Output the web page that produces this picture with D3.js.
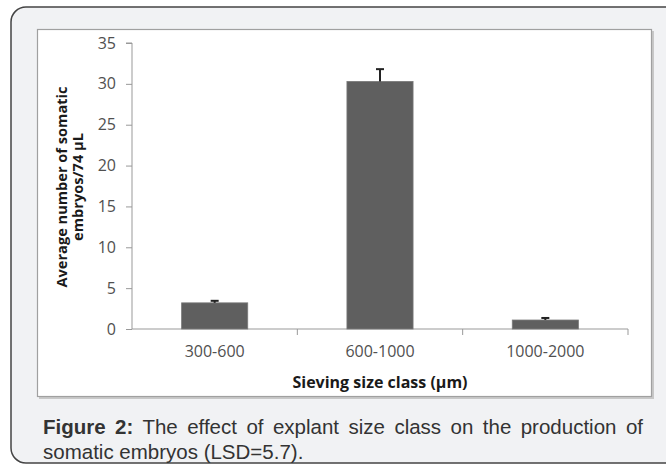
<!DOCTYPE html>
<html><head><meta charset="utf-8">
<script src="https://cdn.jsdelivr.net/npm/d3@7"></script>
<style>body{margin:0;background:#fff}svg{display:block}</style>
</head><body>
<script>
const categories = ["300-600", "600-1000", "1000-2000"];
const values = [3.2, 30.3, 1.1];
const errors = [0.25, 1.5, 0.25];
const yTicks = [0, 5, 10, 15, 20, 25, 30, 35];
const yTitle = ["Average number of somatic", "embryos/74 µL"];
const xTitle = "Sieving size class (µm)";
const caption1Bold = "Figure 2:";
const caption1 = " The effect of explant size class on the production of";
const caption2 = "somatic embryos (LSD=5.7).";

const W = 666, H = 466;
const svg = d3.select("body").append("svg").attr("width", W).attr("height", H);

// outer frame
svg.append("rect").attr("x", 11).attr("y", 7).attr("width", 672).attr("height", 456)
  .attr("rx", 15).attr("fill", "#f1f2f4").attr("stroke", "#444").attr("stroke-width", 1.5);

// chart box
svg.append("rect").attr("x", 39).attr("y", 31).attr("width", 615).attr("height", 368)
  .attr("fill", "#c8c8c8");
svg.append("rect").attr("x", 37.5).attr("y", 29.5).attr("width", 614).attr("height", 367)
  .attr("fill", "#fff").attr("stroke", "#a0a0a0").attr("stroke-width", 1.2);

const font = "'Open Sans', sans-serif";
const y = d3.scaleLinear().domain([0, 35]).range([329, 43]);
const x = d3.scaleBand().domain(categories).range([132, 628]).paddingInner(0.6).paddingOuter(0.3);

// y axis
const yAxis = svg.append("g").attr("transform", "translate(132,0)")
  .call(d3.axisLeft(y).tickValues(yTicks).tickSize(6).tickPadding(10));
yAxis.select(".domain").attr("stroke", "#999").attr("d", `M-6,${y(35)}H0V${y(0)}`);
yAxis.selectAll(".tick line").attr("stroke", "#999");
yAxis.selectAll(".tick text").attr("font-family", font).attr("font-size", 16).attr("fill", "#505050");

// x axis
const xg = svg.append("g");
xg.append("line").attr("x1", 132).attr("x2", 628).attr("y1", y(0)).attr("y2", y(0)).attr("stroke", "#999");
const step = x.step();
const bounds = categories.map((c, i) => x(c) - step * x.paddingInner() / 2).concat([x(categories[2]) + x.bandwidth() + step * x.paddingInner() / 2]);
xg.selectAll("line.tk").data(bounds.slice(1)).join("line").attr("class", "tk")
  .attr("x1", d => d).attr("x2", d => d).attr("y1", y(0)).attr("y2", y(0) + 6).attr("stroke", "#999");
xg.selectAll("text").data(categories).join("text")
  .attr("x", d => x(d) + x.bandwidth() / 2).attr("y", 357)
  .attr("text-anchor", "middle").attr("font-family", font).attr("font-size", 16).attr("fill", "#505050")
  .text(d => d);

// bars
svg.selectAll("rect.bar").data(categories).join("rect").attr("class", "bar")
  .attr("x", d => x(d)).attr("width", x.bandwidth())
  .attr("y", (d, i) => y(values[i])).attr("height", (d, i) => y(0) - y(values[i]))
  .attr("fill", "#5f5f5f").attr("stroke", "#7a7a7a").attr("stroke-width", 0.8);

// error bars
const eg = svg.append("g").attr("stroke", "#222").attr("stroke-width", 2);
categories.forEach((c, i) => {
  const cx = x(c) + x.bandwidth() / 2;
  eg.append("line").attr("x1", cx).attr("x2", cx).attr("y1", y(values[i])).attr("y2", y(values[i] + errors[i]));
  eg.append("line").attr("x1", cx - 4).attr("x2", cx + 4).attr("y1", y(values[i] + errors[i])).attr("y2", y(values[i] + errors[i]));
});

// axis titles
const yt = svg.append("text").attr("transform", "translate(67,187) rotate(-90)")
  .attr("text-anchor", "middle").attr("font-family", font).attr("font-size", 14.6)
  .attr("font-weight", "bold").attr("fill", "#1a1a1a");
yt.append("tspan").attr("x", 0).attr("y", 0).text(yTitle[0]);
yt.append("tspan").attr("x", 0).attr("y", 16).text(yTitle[1]);

svg.append("text").attr("x", 380).attr("y", 388).attr("text-anchor", "middle")
  .attr("font-family", font).attr("font-size", 16).attr("font-weight", "bold").attr("fill", "#1a1a1a")
  .text(xTitle);

// caption
const capFont = "'Liberation Sans', Arial, sans-serif";
const cap = svg.append("text").attr("x", 43).attr("y", 434)
  .attr("font-family", capFont).attr("font-size", 20.5).attr("fill", "#333");
cap.append("tspan").attr("font-weight", "bold").text(caption1Bold);
cap.append("tspan").text(caption1);
const natural = cap.node().getComputedTextLength();
const spaces = (caption1Bold + caption1).split(" ").length - 1;
cap.attr("word-spacing", Math.max(0, (600 - natural) / spaces));
svg.append("text").attr("x", 43).attr("y", 459)
  .attr("font-family", capFont).attr("font-size", 20.5).attr("fill", "#333")
  .text(caption2);
</script>
</body></html>
